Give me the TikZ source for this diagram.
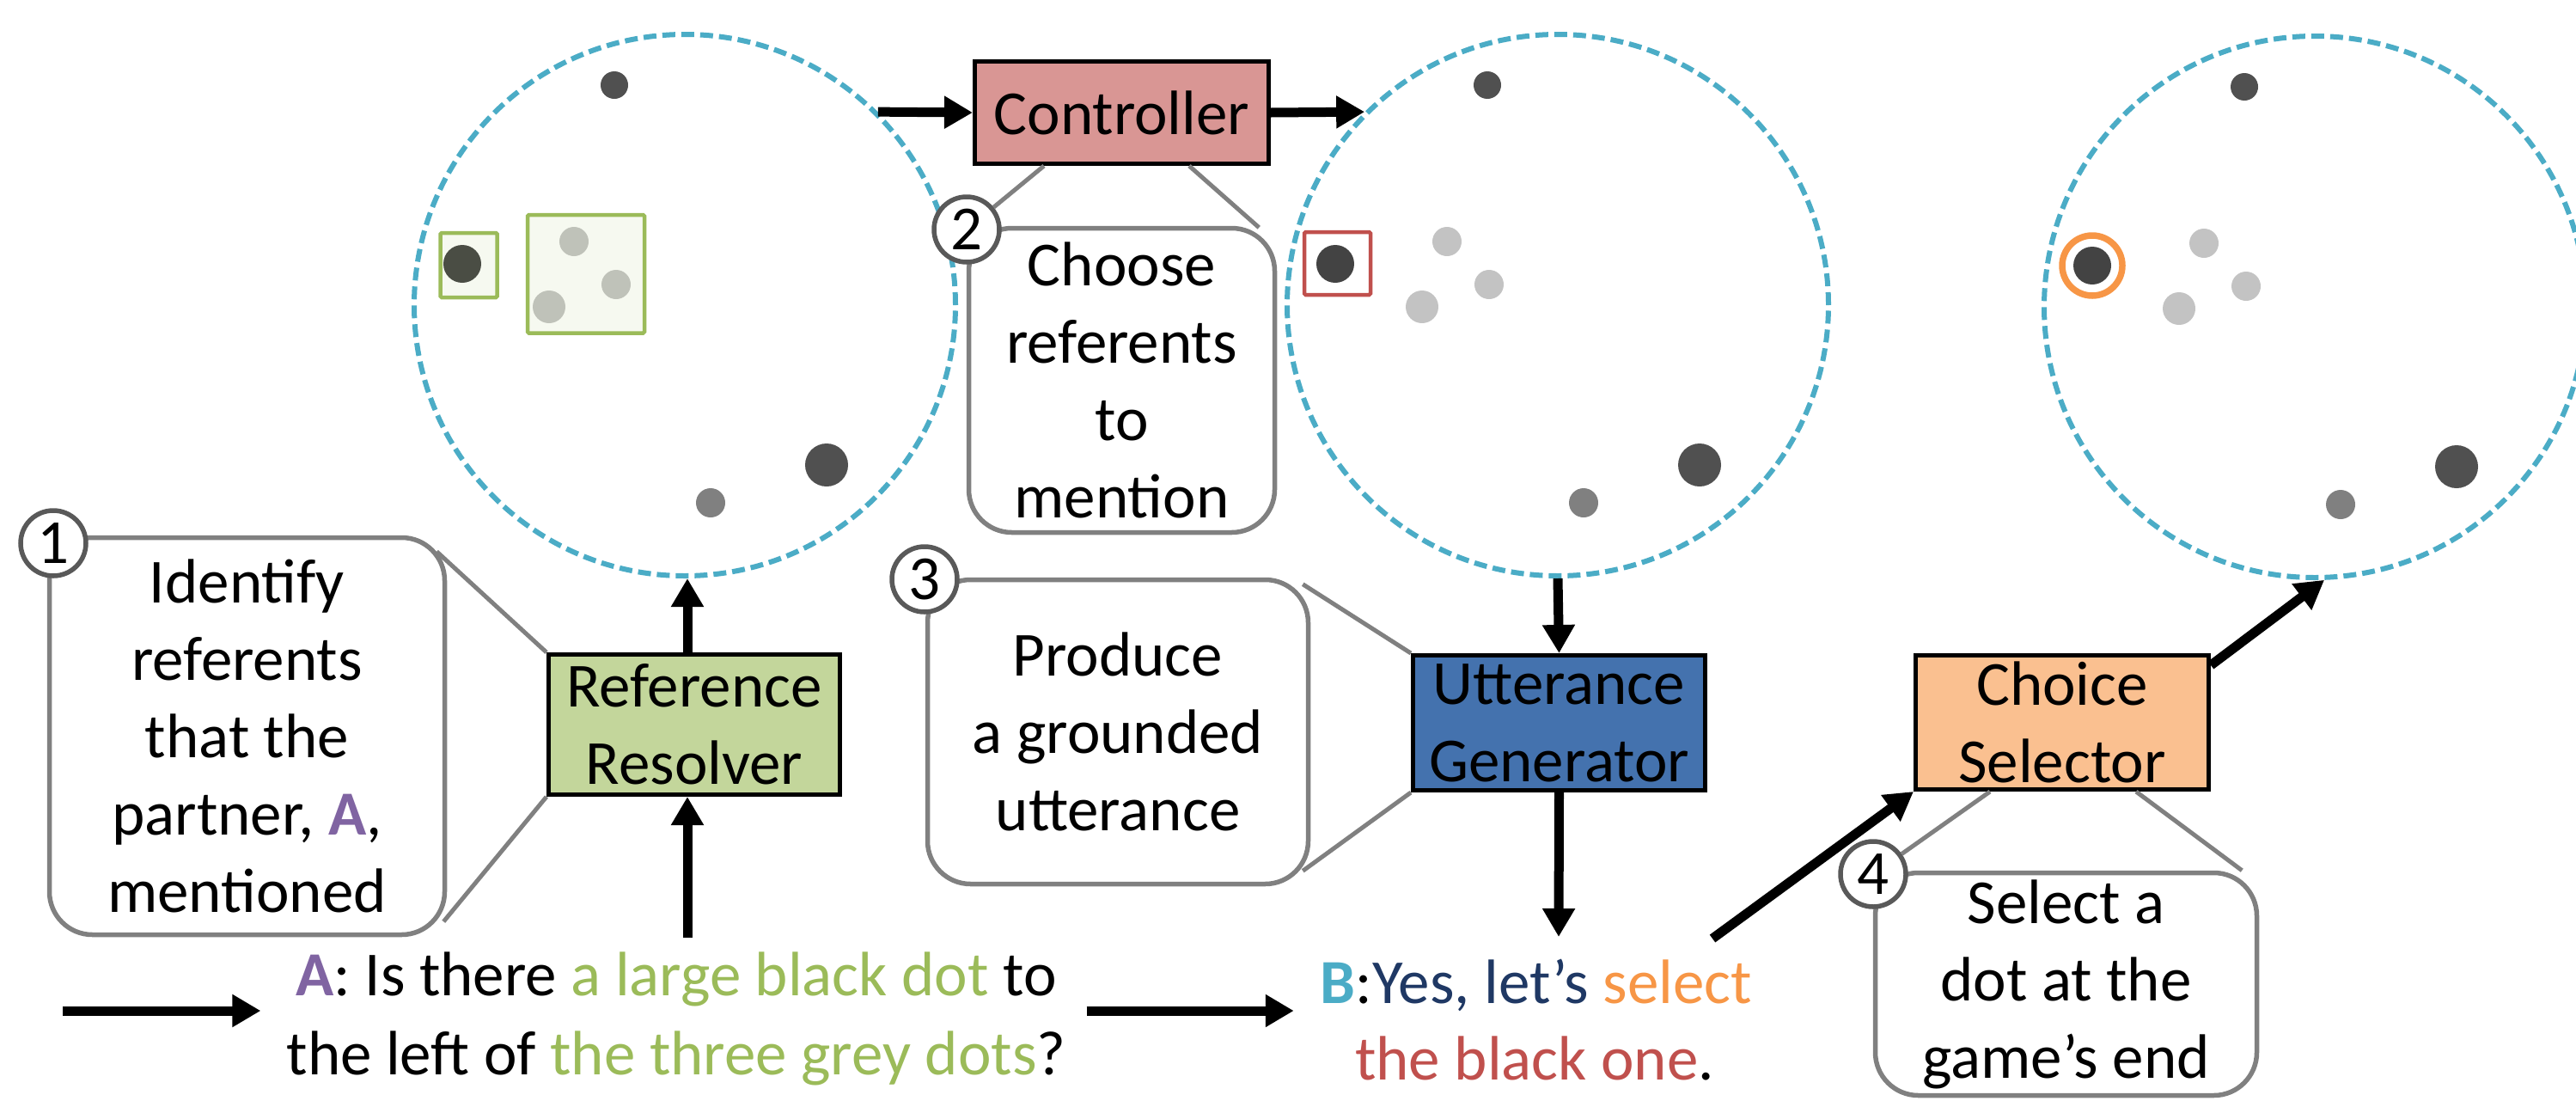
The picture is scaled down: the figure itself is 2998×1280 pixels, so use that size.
\documentclass[tikz,border=0pt]{standalone}
\usepackage{fontspec}
\setmainfont{Carlito}
\usetikzlibrary{arrows.meta,calc}
\definecolor{cteal}{HTML}{4BACC6}
\definecolor{cgreen}{HTML}{9BBB59}
\definecolor{cpurple}{HTML}{8064A2}
\definecolor{cred}{HTML}{C0504D}
\definecolor{corange}{HTML}{F79646}
\definecolor{cnavy}{HTML}{1F3864}
\definecolor{ctrlfill}{HTML}{D99694}
\definecolor{rrfill}{HTML}{C3D69B}
\definecolor{ugfill}{HTML}{4472AE}
\definecolor{csfill}{HTML}{FAC090}
\definecolor{cgrey}{HTML}{808080}
\definecolor{cdgrey}{HTML}{595959}
\definecolor{dotdark}{HTML}{505050}
\definecolor{dotblack}{HTML}{434343}
\definecolor{dotlight}{HTML}{C3C3C3}
\definecolor{dotmid}{HTML}{808080}
\newcommand{\mydotfield}{%
  \fill[dotdark] (-82,-256) circle[radius=16pt];
  \fill[dotblack] (-259,-48) circle[radius=22pt];
  \fill[dotlight] (-129,-74) circle[radius=17pt];
  \fill[dotlight] (-80,-24) circle[radius=17pt];
  \fill[dotlight] (-158,2) circle[radius=19pt];
  \fill[dotdark] (165,186) circle[radius=25pt];
  \fill[dotmid] (30,230) circle[radius=17pt];
}
\begin{document}
\begin{tikzpicture}[x=1pt,y=-1pt,
  every node/.style={font=\fontsize{73}{90}\selectfont, inner sep=0pt},
  world/.style={circle, draw=cteal, line width=6pt, dash pattern=on 15pt off 7pt, minimum size=630pt},
  module/.style={draw=black, line width=5pt, align=center},
  callout/.style={draw=cgrey, line width=5.5pt, fill=white, rounded corners=50pt, align=center},
  numc/.style={circle, draw=cdgrey, line width=5.5pt, fill=white, minimum size=76pt},
  arr/.style={line width=11pt, -{Triangle[length=33pt,width=36pt]}},
  link/.style={draw=cgrey, line width=5pt},
  selbox/.style={line width=4.5pt, rounded corners=1.5pt}
]
\useasboundingbox (0,0) rectangle (2998,1280);

% worlds
\node[world] (c1) at (797,355) {};
\node[world] (c2) at (1813,355) {};
\node[world] (c3) at (2694,357) {};
\begin{scope}[shift={(797,355)}]
  \mydotfield
  \draw[selbox, draw=cgreen, fill=cgreen, fill opacity=0.09] (-284.5,-84) rectangle (-218.4,-9);
  \draw[selbox, draw=cgreen, fill=cgreen, fill opacity=0.09] (-183,-105) rectangle (-47,32.5);
\end{scope}
\begin{scope}[shift={(1813,355)}]
  \mydotfield
  \draw[selbox, draw=cred] (-295,-85) rectangle (-218,-12);
\end{scope}
\begin{scope}[shift={(2694,357)}]
  \mydotfield
  \draw[corange, line width=7.5pt] (-259,-48) circle[radius=35pt];
\end{scope}

% modules
\node[module, fill=ctrlfill, minimum width=342pt, minimum height=119pt] (ctrl) at (1305.5,131) {Controller};
\node[module, fill=rrfill, minimum width=339pt, minimum height=163pt] (rr) at (808,843) {Reference\\Resolver};
\node[module, fill=ugfill, minimum width=340pt, minimum height=157pt] (ug) at (1814.5,841) {Utterance\\Generator};
\node[module, fill=csfill, minimum width=341pt, minimum height=156pt] (cs) at (2400,840.5) {Choice\\Selector};

% callouts
\node[callout, minimum width=460pt, minimum height=462pt] (co1) at (287.5,856.5)
  {Identify\\referents\\that the\\partner, \textcolor{cpurple}{\textbf{A}},\\mentioned};
\node[callout, minimum width=356pt, minimum height=354pt] (co2) at (1305.5,442.5)
  {Choose\\referents\\to\\mention};
\node[callout, minimum width=443pt, minimum height=354pt] (co3) at (1301,851.5)
  {Produce\\a grounded\\utterance};
\node[callout, minimum width=444pt, minimum height=259pt] (co4) at (2404.5,1145)
  {Select a\\dot at the\\game’s end};

\node[numc] (n1) at (62,632) {1};
\node[numc] (n2) at (1125,267) {2};
\node[numc] (n3) at (1076,674) {3};
\node[numc] (n4) at (2180,1017) {4};

% callout links
\draw[link] (rr.north west) -- ($(co1.north east)+(-12,19)$);
\draw[link] (rr.south west) -- ($(co1.south east)+(-4,-18)$);
\draw[link] ($(ctrl.south west)+(83,0)$) -- (n2);
\draw[link] ($(ctrl.south east)+(-95,0)$) -- ($(co2.north east)+(-21,2)$);
\draw[link] (ug.north west) -- ($(co3.north east)+(-9,8)$);
\draw[link] (ug.south west) -- ($(co3.south east)+(-9,-18)$);
\draw[link] ($(cs.south west)+(89,0)$) -- (n4);
\draw[link] ($(cs.south east)+(-87,0)$) -- ($(co4.north east)+(-20,0)$);

% utterances
\node[anchor=base] (q1) at (787,1158) {\textcolor{cpurple}{\textbf{A}}: Is there \textcolor{cgreen}{a large black dot} to};
\node[anchor=base] (q2) at (787,1250) {the left of \textcolor{cgreen}{the three grey dots}?};
\node[anchor=base] (b1) at (1788,1167) {\textcolor{cteal}{\textbf{B}}:\textcolor{cnavy}{Yes, let’s} \textcolor{corange}{select}};
\node[anchor=base] (b2) at (1786,1256) {\textcolor{cred}{the black one}.};

% arrows
\coordinate (inL) at (73,1176);
\coordinate (qL) at ($(q2.west)+(-30,0)$);
\coordinate (qR) at ($(q1.east)+(35,0)$);
\coordinate (bL) at ($(b1.west)+(-31,0)$);
\coordinate (qUp) at (800,1091);
\coordinate (bIn) at (1814,1090);
\coordinate (bTop) at (1993,1092);
\draw[arr] (inL) -- (qL |- inL);
\draw[arr] (qR |- inL) -- (bL |- inL);
\draw[arr] (qUp) -- (qUp |- rr.south);
\draw[arr] (qUp |- rr.north) -- (qUp |- c1.south);
\draw[arr] (c1.45) -- (ctrl.west);
\draw[arr] (ctrl.east) -- (c2.135);
\draw[arr] (c2.south) -- (ug.north);
\draw[arr] (ug.south) -- (bIn);
\draw[arr] (bTop) -- (cs.south west);
\draw[arr] ($(cs.north east)+(0,14)$) -- (c3.272);
\end{tikzpicture}
\end{document}
